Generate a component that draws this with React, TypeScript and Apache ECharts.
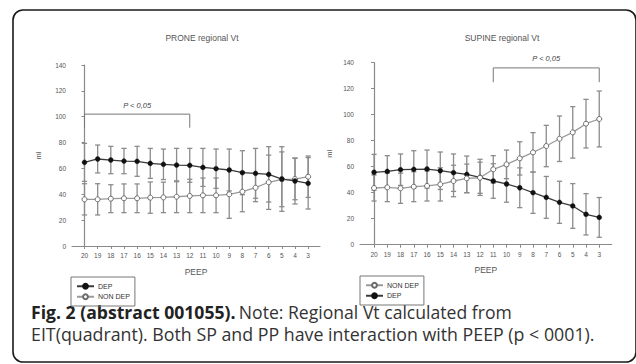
import React, { useEffect, useRef } from "react";
import * as echarts from "echarts";

const peepLabels = ["20", "19", "18", "17", "16", "15", "14", "13", "12", "11", "10", "9", "8", "7", "6", "5", "4", "3"];
const yTicks = [0, 20, 40, 60, 80, 100, 120, 140];

// PRONE
const proneDep = [64.7, 67.3, 66.5, 65.7, 65.5, 63.9, 63.2, 62.6, 62.4, 60.8, 59.8, 58.8, 56.7, 56.2, 55.4, 51.8, 50.3, 48.5];
const proneDepSd = [14.7, 10.8, 10.6, 9.8, 11.6, 11.6, 11.8, 12.9, 13.1, 14.7, 15.2, 16.2, 17.0, 19.3, 21.4, 25.0, 17.8, 19.9];
const proneNonDep = [36.1, 36.1, 36.6, 36.9, 36.9, 37.4, 37.6, 38.1, 38.7, 39.2, 39.2, 40.0, 42.0, 45.1, 49.3, 51.6, 51.8, 53.6];
const proneNonDepSd = [12.1, 12.1, 10.8, 11.1, 11.1, 12.1, 11.8, 12.3, 12.9, 13.4, 13.4, 18.6, 15.5, 10.8, 21.0, 21.2, 16.0, 16.0];

// SUPINE
const supineDep = [55.7, 56.4, 57.7, 58.0, 58.2, 56.9, 55.4, 54.1, 51.8, 49.0, 46.7, 43.8, 40.0, 36.4, 32.6, 29.8, 23.4, 21.0];
const supineDepSd = [13.8, 12.1, 12.1, 14.3, 14.6, 14.4, 14.4, 14.1, 13.9, 13.3, 14.0, 15.3, 15.9, 16.1, 16.2, 17.2, 15.9, 15.3];
const supineNonDep = [43.6, 44.1, 43.4, 44.6, 45.2, 46.4, 49.0, 51.0, 51.5, 58.0, 61.8, 66.4, 71.0, 75.9, 81.5, 86.4, 93.1, 96.7];
const supineNonDepSd = [10.0, 11.0, 11.6, 11.5, 11.6, 12.8, 12.1, 11.0, 12.0, 10.5, 11.0, 12.8, 15.2, 15.9, 17.5, 19.8, 18.7, 21.5];

// significance brackets: [fromIndex, toIndex, legLow, top]
const proneBracket = [0, 8, 91.5, 102];
const supineBracket = [9, 17, 125, 136];
const sigText = "P < 0,05";

const AXIS = "#8a8a8a";
const LABEL = "#555";
const BAR = "#8c8c8c";
const FONT = "Liberation Sans, Arial, sans-serif";

function pairs(vals: number[]) {
  return vals.map((v, i) => [i, v]);
}
function triples(vals: number[], sds: number[]) {
  return vals.map((v, i) => [i, v, sds[i]]);
}

function errRender(params: any, api: any) {
  const x = api.value(0);
  const m = api.value(1);
  const s = api.value(2);
  const top = api.coord([x, m + s]);
  const bot = api.coord([x, m - s]);
  const hw = 2.6;
  const st = { stroke: BAR, lineWidth: 1.3 };
  return {
    type: "group",
    children: [
      { type: "line", shape: { x1: top[0], y1: top[1], x2: bot[0], y2: bot[1] }, style: st },
      { type: "line", shape: { x1: top[0] - hw, y1: top[1], x2: top[0] + hw, y2: top[1] }, style: st },
      { type: "line", shape: { x1: bot[0] - hw, y1: bot[1], x2: bot[0] + hw, y2: bot[1] }, style: st },
    ],
  };
}

function bracketRender(params: any, api: any) {
  const a = api.value(0);
  const b = api.value(1);
  const lo = api.value(2);
  const hi = api.value(3);
  const p1 = api.coord([a, lo]);
  const p2 = api.coord([a, hi]);
  const p3 = api.coord([b, hi]);
  const p4 = api.coord([b, lo]);
  return {
    type: "group",
    children: [
      {
        type: "polyline",
        shape: { points: [p1, p2, p3, p4] },
        style: { stroke: "#777", lineWidth: 1, fill: null },
      },
      {
        type: "text",
        x: (p2[0] + p3[0]) / 2,
        y: p2[1] - 9,
        style: {
          text: sigText,
          fontSize: 7.5,
          fontStyle: "italic",
          fontFamily: FONT,
          fill: "#444",
          align: "center",
          verticalAlign: "middle",
        },
      },
    ],
  };
}

function xAxisFor(gridIndex: number, min: number, max: number) {
  const idx = peepLabels.map((_, i) => i);
  return {
    type: "value",
    gridIndex,
    min,
    max,
    name: "PEEP",
    nameLocation: "middle",
    nameGap: 21,
    nameTextStyle: { fontSize: 8.5, color: LABEL, fontFamily: FONT },
    axisLine: { show: true, lineStyle: { color: AXIS, width: 1.2 } },
    axisTick: { show: true, customValues: idx, length: 3, lineStyle: { color: AXIS } },
    axisLabel: {
      show: true,
      customValues: idx,
      formatter: (v: number) => peepLabels[Math.round(v)] ?? "",
      fontSize: 6.5,
      color: LABEL,
      margin: 6,
      fontFamily: FONT,
    },
    splitLine: { show: false },
  };
}

function yAxisFor(gridIndex: number, gap: number) {
  return {
    type: "value",
    gridIndex,
    min: 0,
    max: 140,
    interval: 20,
    name: "ml",
    nameLocation: "middle",
    nameGap: gap,
    nameRotate: 90,
    nameTextStyle: { fontSize: 7.5, color: LABEL, fontFamily: FONT },
    axisLine: { show: true, lineStyle: { color: AXIS, width: 1.2 } },
    axisTick: { show: true, length: 3, lineStyle: { color: AXIS } },
    axisLabel: {
      fontSize: 6.5,
      color: LABEL,
      margin: 6,
      formatter: (v: number) => (yTicks.includes(v) ? String(v) : ""),
      fontFamily: FONT,
    },
    splitLine: { show: false },
  };
}

function lineSeries(name: string, vals: number[], gi: number, filled: boolean) {
  return {
    type: "line",
    name,
    xAxisIndex: gi,
    yAxisIndex: gi,
    data: pairs(vals),
    symbol: "circle",
    symbolSize: 5,
    z: 3,
    lineStyle: { color: filled ? "#3a3a3a" : "#9a9a9a", width: 1.3 },
    itemStyle: filled
      ? { color: "#111", borderColor: "#111", borderWidth: 0.3 }
      : { color: "#fff", borderColor: "#6a6a6a", borderWidth: 1 },
  };
}

function errSeries(name: string, vals: number[], sds: number[], gi: number) {
  return {
    type: "custom",
    name,
    xAxisIndex: gi,
    yAxisIndex: gi,
    data: triples(vals, sds),
    renderItem: errRender,
    z: 1,
    silent: true,
  };
}

function legendFor(left: number, top: number, data: string[]) {
  return {
    left,
    top,
    orient: "vertical",
    data,
    padding: [5, 5, 5, 5],
    itemGap: 2,
    itemWidth: 17,
    itemHeight: 6,
    borderColor: "#777",
    borderWidth: 1,
    textStyle: { fontSize: 7, color: "#333", fontFamily: FONT, lineHeight: 8.5, padding: [0, 0, 0, -1] },
    selectedMode: false,
  };
}

export default function App() {
  const ref = useRef<HTMLDivElement>(null);
  useEffect(() => {
    if (!ref.current) return;
    const chart = echarts.init(ref.current, undefined, { renderer: "svg" });
    const option: any = {
      animation: false,
      backgroundColor: "#fff",
      title: [
        {
          text: "PRONE regional Vt",
          left: 197,
          top: 28,
          textAlign: "center",
          textStyle: { fontSize: 8.5, fontWeight: "normal", color: "#555", fontFamily: FONT },
        },
        {
          text: "SUPINE regional Vt",
          left: 497,
          top: 28,
          textAlign: "center",
          textStyle: { fontSize: 8.5, fontWeight: "normal", color: "#555", fontFamily: FONT },
        },
      ],
      legend: [legendFor(71, 277, ["DEP", "NON DEP"]), legendFor(360, 276, ["NON DEP", "DEP"])],
      grid: [
        { left: 72, top: 65, width: 248, height: 181, containLabel: false },
        { left: 360, top: 62.7, width: 251.7, height: 182, containLabel: false },
      ],
      xAxis: [xAxisFor(0, -0.95, 17.9), xAxisFor(1, -1.06, 17.94)],
      yAxis: [yAxisFor(0, 30), yAxisFor(1, 27)],
      series: [
        errSeries("DEP SD", proneDep, proneDepSd, 0),
        errSeries("NON DEP SD", proneNonDep, proneNonDepSd, 0),
        lineSeries("NON DEP", proneNonDep, 0, false),
        lineSeries("DEP", proneDep, 0, true),
        {
          type: "custom",
          name: "bracket",
          xAxisIndex: 0,
          yAxisIndex: 0,
          data: [proneBracket],
          renderItem: bracketRender,
          silent: true,
        },
        errSeries("DEP SD", supineDep, supineDepSd, 1),
        errSeries("NON DEP SD", supineNonDep, supineNonDepSd, 1),
        lineSeries("DEP", supineDep, 1, true),
        lineSeries("NON DEP", supineNonDep, 1, false),
        {
          type: "custom",
          name: "bracket",
          xAxisIndex: 1,
          yAxisIndex: 1,
          data: [supineBracket],
          renderItem: bracketRender,
          silent: true,
        },
      ],
      graphic: [
        {
          type: "rect",
          shape: { x: 13, y: 10, width: 623, height: 352, r: 10 },
          style: { fill: null, stroke: "#1a1a1a", lineWidth: 1.6 },
          silent: true,
        },
        {
          type: "text",
          x: 31,
          y: 311.5,
          style: {
            text: "{b|Fig. 2 (abstract 001055).} {r|Note: Regional Vt calculated from}",
            verticalAlign: "middle",
            rich: {
              b: { fontSize: 17.6, fontWeight: "bold", fill: "#222", fontFamily: "Open Sans" },
              r: { fontSize: 17.6, fontWeight: "normal", fill: "#333", fontFamily: "Open Sans" },
            },
          },
          silent: true,
        },
        {
          type: "text",
          x: 31,
          y: 333.5,
          style: {
            text: "EIT(quadrant). Both SP and PP have interaction with PEEP (p < 0001).",
            verticalAlign: "middle",
            fontSize: 17.8,
            fill: "#333",
            fontFamily: "Open Sans",
          },
          silent: true,
        },
      ],
    };
    chart.setOption(option);
    return () => chart.dispose();
  }, []);
  return (
    <div
      ref={ref}
      style={{ position: "fixed", left: 0, top: 0, width: 636, height: 364, background: "#fff" }}
    />
  );
}
